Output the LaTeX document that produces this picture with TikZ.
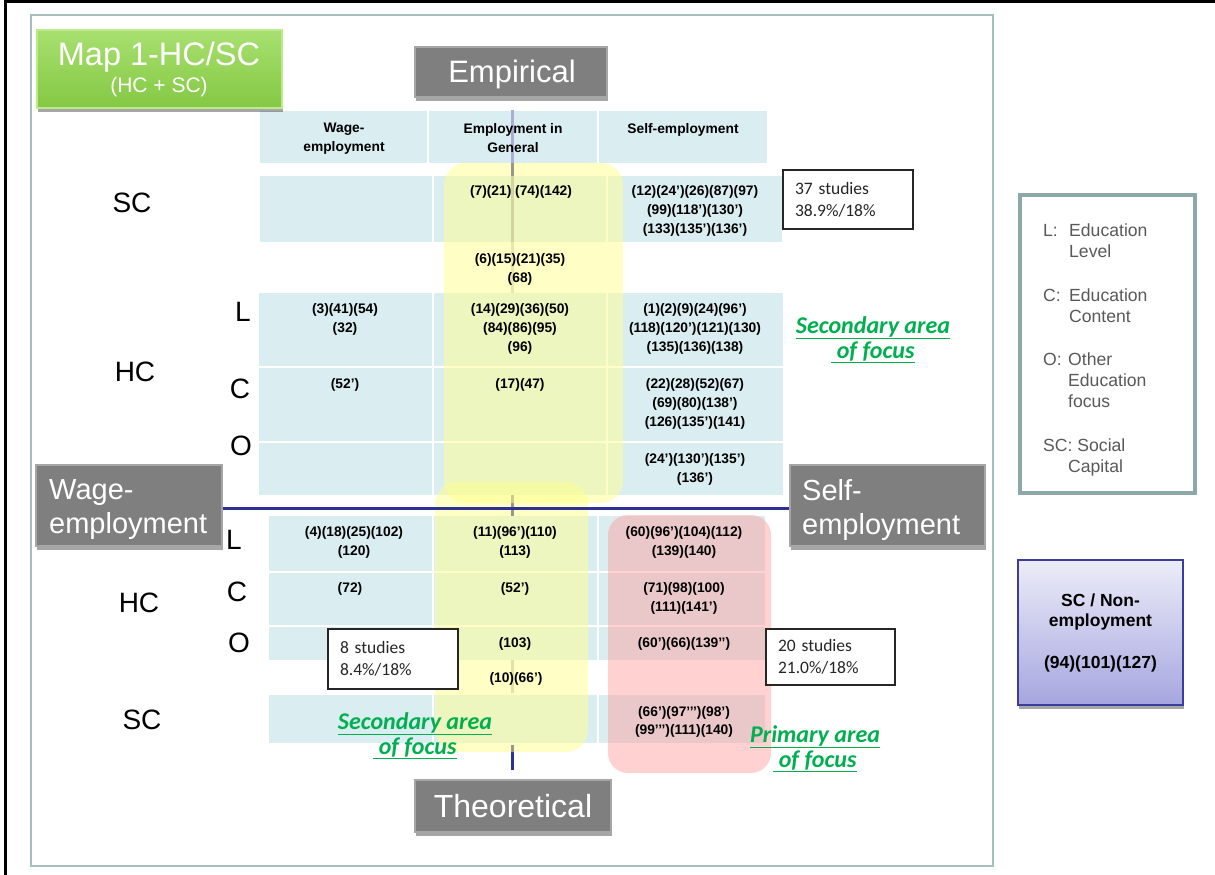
\documentclass[tikz,border=0pt]{standalone}
\usepackage{fontspec}
\setmainfont{Liberation Sans}
\newfontfamily\calib{Carlito}
\usetikzlibrary{shadows}
\definecolor{cellblue}{HTML}{DAEDF1}
\definecolor{navyline}{HTML}{2E3192}
\definecolor{focusgreen}{HTML}{00B050}
\definecolor{boxgray}{HTML}{7F7F7F}
\definecolor{boxedge}{HTML}{A6A6A6}
\definecolor{framegray}{HTML}{A8BEBE}
\definecolor{legendborder}{HTML}{8DA8A8}
\definecolor{legendtext}{HTML}{595959}
\definecolor{yel}{HTML}{FFFF8C}
\definecolor{pinkish}{HTML}{FF9A9A}
\definecolor{titlegreenA}{HTML}{A8E070}
\definecolor{titlegreenB}{HTML}{84C843}
\definecolor{titleedge}{HTML}{BDEB8C}
\definecolor{lavtop}{HTML}{ECECF8}
\definecolor{lavbot}{HTML}{A6A6E0}
\definecolor{laved}{HTML}{3C3C9A}
\newcommand\cellrect[4]{\fill[cellblue] (#1,#2) rectangle (#3,#4);}
\begin{document}
\begin{tikzpicture}[x=1pt,y=-1pt,
  celltext/.style={anchor=north, align=center, inner sep=0pt, font=\fontsize{13.8}{19}\selectfont\bfseries},
  rowlab/.style={inner sep=0pt, font=\fontsize{28}{30}\selectfont},
  shadowed/.style={drop shadow={shadow xshift=1pt, shadow yshift=-4pt, opacity=0.35, fill=black}},
  graybox/.style={rectangle, fill=boxgray, draw=boxedge, line width=1.5pt, text=white, inner sep=0pt, shadowed},
  graytext/.style={text=white, inner sep=0pt, align=left, anchor=north west, font=\fontsize{29}{34}\selectfont},
  focus/.style={text=focusgreen, align=center, inner sep=0pt, font=\calib\fontsize{24}{25}\selectfont\bfseries\itshape},
  studies/.style={rectangle, draw=black!85, line width=1.3pt, fill=white, align=left, inner xsep=12pt, inner ysep=0pt, font=\calib\fontsize{17.5}{22}\selectfont, text=black!85},
  axis/.style={line width=3pt},
  legtext/.style={anchor=north west, align=left, inner sep=0pt, text=legendtext, font=\fontsize{17.6}{20.8}\selectfont}
]
\useasboundingbox (0,0) rectangle (1215,875);
\fill[white] (0,0) rectangle (1215,875);
% outer frame
\draw[line width=3pt] (5,875) -- (5,2) -- (1215,2);
% inner frame
\draw[framegray, line width=1.5pt] (31,15) rectangle (993,866);

% header cells
\cellrect{260}{111}{427}{163}
\cellrect{429}{111}{597}{163}
\cellrect{599}{111}{767}{163}
% SC row
\cellrect{260}{176}{432}{242}
\cellrect{434}{176}{606}{242}
\cellrect{608}{176}{782}{242}
% HC rows
\cellrect{259}{293}{432}{366}
\cellrect{434}{293}{606}{366}
\cellrect{608}{293}{783}{366}
\cellrect{259}{368}{432}{441}
\cellrect{434}{368}{606}{441}
\cellrect{608}{368}{783}{441}
\cellrect{259}{443}{432}{495}
\cellrect{434}{443}{606}{495}
\cellrect{608}{443}{783}{495}
% bottom rows
\cellrect{269}{516}{432}{571}
\cellrect{434}{516}{597}{571}
\cellrect{599}{516}{765}{571}
\cellrect{269}{573}{432}{625}
\cellrect{434}{573}{597}{625}
\cellrect{599}{573}{765}{625}
\cellrect{269}{627}{432}{660}
\cellrect{434}{627}{597}{660}
\cellrect{599}{627}{765}{660}
\cellrect{269}{695}{432}{743}
\cellrect{434}{695}{597}{743}
\cellrect{599}{695}{765}{743}

% vertical axis (visible parts)
\coordinate (vtop) at (512,110);
\coordinate (v1) at (512,163);
\coordinate (v2) at (512,176);
\coordinate (v3) at (512,242);
\coordinate (v4) at (512,293);
\coordinate (v5) at (512,495);
\coordinate (v6) at (512,516);
\coordinate (v7) at (512,660);
\coordinate (v8) at (512,693);
\coordinate (v9) at (512,745);
\coordinate (vbot) at (512,770);
\draw[axis, color=navyline!40] (vtop) -- (v1);
\draw[axis, color=navyline] (v1) -- (v2);
\draw[axis, color=navyline!25!gray!60] (v2) -- (v3);
\draw[axis, color=gray!35] (v3) -- (v4);
\draw[axis, color=navyline] (v5) -- (v6);
\draw[axis, color=gray!45] (v7) -- (v8);
\draw[axis, color=navyline] (v9) -- (vbot);

% overlays
\fill[yel, opacity=0.5, rounded corners=22pt] (444,163) rectangle (623,503);
\fill[yel, opacity=0.5, rounded corners=22pt] (435,482) rectangle (588,752);
\fill[pinkish, opacity=0.45, rounded corners=20pt] (608,515) rectangle (771,773);

% header text
\node[celltext] (h1) at (344,123) {Wage-\\employment};
\node[celltext] (h2) at (513,123) {Employment in\\General};
\node[celltext] (h3) at (683,123) {Self-employment};
% SC row
\node[celltext] (s2) at (521,185) {(7)(21) (74)(142)};
\node[celltext] (s3) at (695,185) {(12)(24’)(26)(87)(97)\\(99)(118’)(130’)\\(133)(135’)(136’)};
\node[celltext] (g2) at (520,253) {(6)(15)(21)(35)\\(68)};
% HC L
\node[celltext] (l1) at (345,303) {(3)(41)(54)\\(32)};
\node[celltext] (l2) at (520,303) {(14)(29)(36)(50)\\(84)(86)(95)\\(96)};
\node[celltext] (l3) at (695,303) {(1)(2)(9)(24)(96’)\\(118)(120’)(121)(130)\\(135)(136)(138)};
% HC C
\node[celltext] (c1) at (345,378) {(52’)};
\node[celltext] (c2) at (520,378) {(17)(47)};
\node[celltext] (c3) at (695,378) {(22)(28)(52)(67)\\(69)(80)(138’)\\(126)(135’)(141)};
% HC O
\node[celltext] (o3) at (695,453) {(24’)(130’)(135’)\\(136’)};
% bottom L
\node[celltext] (bl1) at (354,526) {(4)(18)(25)(102)\\(120)};
\node[celltext] (bl2) at (515,526) {(11)(96’)(110)\\(113)};
\node[celltext] (bl3) at (684,526) {(60)(96’)(104)(112)\\(139)(140)};
% bottom C
\node[celltext] (bc1) at (350,582) {(72)};
\node[celltext] (bc2) at (515,582) {(52’)};
\node[celltext] (bc3) at (684,582) {(71)(98)(100)\\(111)(141’)};
% bottom O
\node[celltext] (bo2) at (515,637) {(103)};
\node[celltext] (bo3) at (684,637) {(60’)(66)(139’’)};
\node[celltext] (bg2) at (516,672) {(10)(66’)};
% bottom SC
\node[celltext, font=\fontsize{13.8}{18}\selectfont\bfseries] (bs3) at (684,706) {(66’)(97’’’)(98’)\\(99’’’)(111)(140)};

% row labels
\node[rowlab] (lSC) at (132,203) {SC};
\node[rowlab] (lHC) at (135,372) {HC};
\node[rowlab] (lL) at (243,312) {L};
\node[rowlab] (lC) at (240,389) {C};
\node[rowlab] (lO) at (241,446) {O};
\node[rowlab] (bL) at (234,540) {L};
\node[rowlab] (bHC) at (139,603) {HC};
\node[rowlab] (bC) at (237,592) {C};
\node[rowlab] (bO) at (239,643) {O};
\node[rowlab] (bSC) at (142,720) {SC};

% studies boxes
\node[studies, minimum width=130pt, minimum height=59pt, text width=106pt] (st37) at (848,199.5) {37 studies\\38.9\%/18\%};
\node[studies, minimum width=130pt, minimum height=60pt, text width=106pt] (st8) at (393,659) {8 studies\\8.4\%/18\%};
\node[studies, minimum width=129pt, minimum height=56pt, text width=105pt] (st20) at (830.5,657) {20 studies\\21.0\%/18\%};

% focus labels
\node[focus] (f1) at (873,339.5) {\underline{Secondary area}\\\underline{\ of focus}};
\node[focus] (f2) at (415,735.5) {\underline{Secondary area}\\\underline{\ of focus}};
\node[focus] (f3) at (815,748.5) {\underline{Primary area}\\\underline{\ of focus}};

% gray axis boxes
\node[graybox, minimum width=192pt, minimum height=50pt] (emp) at (511,72) {};
\node[text=white, inner sep=0pt, font=\fontsize{31}{34}\selectfont] (emptxt) at (512,74) {Empirical};
\node[graybox, minimum width=196pt, minimum height=52pt, font=\fontsize{32}{34}\selectfont] (theo) at (513,806) {Theoretical};
\node[graybox, minimum width=186pt, minimum height=81pt] (wage) at (129,505.5) {};
\node[graytext] (wagetxt) at (49,479) {Wage-\\employment};
\node[graybox, minimum width=195pt, minimum height=81pt] (self) at (887.5,505.5) {};
\node[graytext] (selftxt) at (802,479) {Self-\\employment};
% horizontal axis
\draw[axis, navyline] (wage.east |- 0,508) -- (self.west |- 0,508);

% title
\node[rectangle, minimum width=245pt, minimum height=78pt, top color=titlegreenA, bottom color=titlegreenB, draw=titleedge, line width=2pt, shadowed] (title) at (159.5,69) {};
\node[text=white, inner sep=0pt, font=\fontsize{32.5}{34}\selectfont] (t1) at (159,57) {Map 1-HC/SC};
\node[text=white, inner sep=0pt, font=\fontsize{21}{24}\selectfont] (t2) at (159,87) {(HC + SC)};

% legend
\draw[legendborder, line width=4pt] (1020,195) rectangle (1195,493);
\node[legtext] (kL) at (1043,224) {L:};
\node[legtext] (kLt) at (1069,224) {Education\\Level};
\node[legtext] (kC) at (1043,289) {C:};
\node[legtext] (kCt) at (1069,289) {Education\\Content};
\node[legtext] (kO) at (1043,353) {O:};
\node[legtext] (kOt) at (1068,353) {Other\\Education\\focus};
\node[legtext] (kS) at (1043,439) {SC: Social};
\node[legtext] (kSt2) at (1068,460) {Capital};

% SC / Non-employment
\node[rectangle, minimum width=165pt, minimum height=145pt, top color=lavtop, bottom color=lavbot, draw=laved, line width=1.2pt, shadowed, align=center, font=\fontsize{17.5}{20}\selectfont\bfseries] (nonemp) at (1100.5,632.5) {SC / Non-\\employment\\[22pt](94)(101)(127)};
\end{tikzpicture}
\end{document}
